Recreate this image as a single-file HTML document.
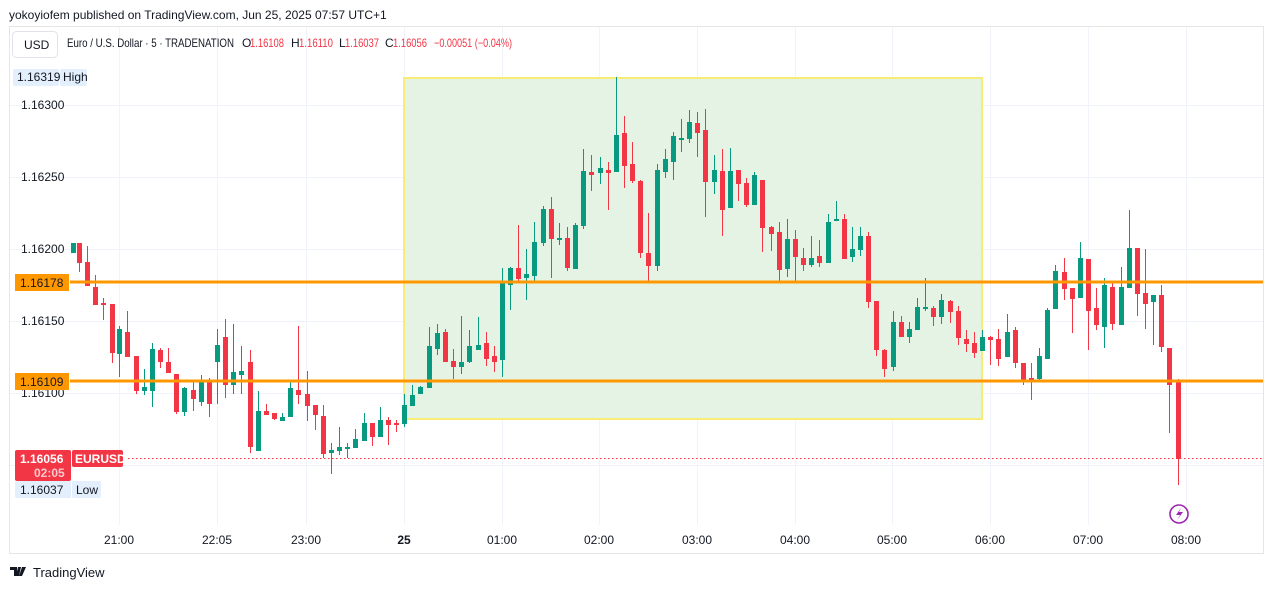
<!DOCTYPE html>
<html><head><meta charset="utf-8"><style>
body{margin:0;width:1273px;height:589px;background:#fff;overflow:hidden;font-family:"Liberation Sans",sans-serif;}
svg text{font-family:"Liberation Sans",sans-serif;}
</style></head><body>
<svg width="1273" height="589" viewBox="0 0 1273 589" xmlns="http://www.w3.org/2000/svg">
<text x="9" y="19" font-size="12" fill="#131722">yokoyiofem published on TradingView.com, Jun 25, 2025 07:57 UTC+1</text>
<rect x="9.5" y="26.5" width="1254" height="527" fill="#fff" stroke="#e6e6e6"/>
<g stroke="#f0f3fa" stroke-width="1">
<line x1="10" x2="1263" y1="105.5" y2="105.5"/><line x1="10" x2="1263" y1="177.5" y2="177.5"/>
<line x1="10" x2="1263" y1="249.5" y2="249.5"/><line x1="10" x2="1263" y1="321.5" y2="321.5"/>
<line x1="10" x2="1263" y1="393.5" y2="393.5"/><line x1="10" x2="1263" y1="465.5" y2="465.5"/>
<g id="vg"></g>
</g>
<rect x="404" y="78" width="578" height="341" fill="#e5f3e5" stroke="#f8ec77" stroke-width="2"/>
<g id="c"></g>
<line x1="70" x2="1263" y1="282" y2="282" stroke="#ff9800" stroke-width="3"/>
<line x1="70" x2="1263" y1="381" y2="381" stroke="#ff9800" stroke-width="3"/>
<line x1="128" x2="1263" y1="458.5" y2="458.5" stroke="#f23645" stroke-dasharray="1.5 2.5"/>
<rect x="12.5" y="31.5" width="45" height="26" rx="4" fill="#fff" stroke="#e0e3eb"/>
<text x="24" y="49" font-size="12" fill="#131722">USD</text>
<g font-size="12" fill="#131722" lengthAdjust="spacingAndGlyphs">
<text x="67" y="47" textLength="167" lengthAdjust="spacingAndGlyphs">Euro / U.S. Dollar · 5 · TRADENATION</text>
<text x="242" y="47">O</text><text x="250" y="47" fill="#f23645" textLength="34" lengthAdjust="spacingAndGlyphs">1.16108</text>
<text x="291" y="47">H</text><text x="299" y="47" fill="#f23645" textLength="34" lengthAdjust="spacingAndGlyphs">1.16110</text>
<text x="339" y="47">L</text><text x="345" y="47" fill="#f23645" textLength="34" lengthAdjust="spacingAndGlyphs">1.16037</text>
<text x="385" y="47">C</text><text x="393" y="47" fill="#f23645" textLength="34" lengthAdjust="spacingAndGlyphs">1.16056</text>
<text x="434" y="47" fill="#f23645" textLength="78" lengthAdjust="spacingAndGlyphs">−0.00051 (−0.04%)</text>
</g>
<rect x="13" y="69" width="46" height="17" rx="2" fill="#e3effd"/><rect x="60" y="69" width="27" height="17" rx="2" fill="#e3effd"/>
<text x="17" y="81" font-size="12" fill="#131722">1.16319</text><text x="63" y="81" font-size="12" fill="#131722">High</text>
<g font-size="12" fill="#131722">
<text x="21" y="109">1.16300</text><text x="21" y="181">1.16250</text><text x="21" y="253">1.16200</text>
<text x="21" y="325">1.16150</text><text x="21" y="397">1.16100</text>
</g>
<rect x="15" y="274" width="54" height="17" fill="#ff9800"/><text x="20" y="287" font-size="12" fill="#131722">1.16178</text>
<rect x="15" y="373" width="54" height="17" fill="#ff9800"/><text x="20" y="386" font-size="12" fill="#131722">1.16109</text>
<rect x="15" y="450" width="56" height="31" rx="2" fill="#f23645"/><rect x="72" y="450" width="51" height="17" rx="2" fill="#f23645"/>
<text x="20" y="463" font-size="12" font-weight="bold" fill="#fff">1.16056</text>
<text x="34" y="477" font-size="12" font-weight="bold" fill="#ffc8cc">02:05</text>
<text x="75" y="463" font-size="12" font-weight="bold" fill="#fff">EURUSD</text>
<rect x="15" y="481" width="56" height="17" rx="2" fill="#e3effd"/><rect x="72" y="481" width="29" height="17" rx="2" fill="#e3effd"/>
<text x="20" y="494" font-size="12" fill="#131722">1.16037</text><text x="76" y="494" font-size="12" fill="#131722">Low</text>
<g font-size="12" fill="#131722" text-anchor="middle" id="tx"></g>
<circle cx="1179" cy="514" r="9" fill="#fff" stroke="#9c27b0" stroke-width="1.6"/>
<path d="M1181 508 L1176 515 L1180 515 L1177 520 L1183 512 L1179 512 Z" fill="#9c27b0"/>
<path d="M10 567h7v9h-3v-6h-4z M18 567h3l-2 9h-3z M22 567h4l-4 9h-3z" fill="#131722"/>
<text x="33" y="577" font-size="13" fill="#131722">TradingView</text>
</svg>
<script>
var ns="http://www.w3.org/2000/svg";
var T=[[119,"21:00"],[217,"22:05"],[306,"23:00"],[404,"25"],[502,"01:00"],[599,"02:00"],[697,"03:00"],[795,"04:00"],[892,"05:00"],[990,"06:00"],[1088,"07:00"],[1186,"08:00"]];
var vg=document.getElementById("vg"),tx=document.getElementById("tx");
T.forEach(function(t){var l=document.createElementNS(ns,"line");l.setAttribute("x1",t[0]+.5);l.setAttribute("x2",t[0]+.5);l.setAttribute("y1",27);l.setAttribute("y2",525);vg.appendChild(l);
var s=document.createElementNS(ns,"text");s.setAttribute("x",t[0]);s.setAttribute("y",544);if(t[1]=="25")s.setAttribute("font-weight","bold");s.textContent=t[1];tx.appendChild(s);});
var C=[[73,243,253,243,253,1],[79,243,263,243,272,0],[87,262,286,246,286,0],[95,287,305,275,305,0],[103,303,305,298,320,0],[112,304,353,304,363,0],[119,329,354,326,377,1],[127,332,357,311,357,0],[136,356,391,356,394,0],[144,387,391,369,395,1],[152,349,391,343,407,1],[160,350,362,348,368,0],[168,362,373,348,373,0],[176,374,412,374,414,0],[184,388,412,387,416,1],[193,390,399,382,411,0],[201,382,402,375,406,1],[209,382,404,378,417,0],[217,345,362,329,404,1],[225,337,385,319,398,0],[233,372,385,324,394,1],[241,371,375,346,394,1],[250,362,447,350,453,0],[258,411,451,391,451,1],[266,411,415,404,415,0],[274,413,419,413,420,0],[282,417,421,413,421,1],[290,388,417,381,417,1],[298,390,395,326,404,0],[307,394,406,371,421,0],[315,405,415,405,430,0],[323,416,454,405,458,0],[331,450,453,443,474,1],[339,447,451,427,455,1],[347,447,448,443,458,1],[355,439,448,429,448,1],[364,423,441,413,441,1],[372,423,437,423,446,0],[380,420,437,407,437,1],[388,420,425,417,445,0],[396,423,424,420,432,0],[404,405,424,394,427,1],[412,395,406,385,406,1],[420,387,394,386,394,1],[429,346,388,327,388,1],[437,333,349,324,355,1],[445,332,362,329,362,0],[453,361,367,349,379,0],[461,362,367,316,374,1],[469,346,362,330,363,1],[478,345,350,317,350,1],[486,343,359,332,366,0],[494,356,362,346,372,0],[502,282,360,268,377,1],[510,268,285,267,310,1],[518,268,279,225,281,0],[526,274,278,249,300,1],[534,242,276,222,282,1],[543,209,243,206,246,1],[551,209,239,197,278,0],[559,238,239,223,245,1],[567,238,268,227,271,0],[575,225,269,223,269,1],[583,171,226,149,229,1],[591,172,175,155,191,0],[600,168,173,157,184,1],[608,170,173,162,210,0],[616,135,172,77,172,1],[624,133,166,116,188,0],[632,164,181,142,183,0],[640,181,253,180,258,0],[648,253,266,213,282,0],[657,170,266,164,271,1],[665,159,172,149,178,1],[673,136,162,132,180,1],[681,138,139,119,152,1],[689,122,139,110,143,1],[697,123,133,112,157,0],[705,130,182,109,217,0],[714,170,182,155,194,1],[722,171,210,149,236,0],[730,171,208,148,208,1],[738,170,184,170,201,0],[746,183,205,178,207,0],[754,175,205,172,205,1],[762,180,228,180,252,0],[771,227,234,226,251,0],[779,232,270,222,282,0],[787,239,269,219,277,1],[795,239,257,230,281,0],[803,258,265,248,271,0],[811,258,265,236,267,1],[819,256,263,240,267,0],[828,222,263,214,263,1],[836,219,221,201,221,1],[844,219,259,214,259,0],[852,249,257,227,262,1],[860,236,250,227,256,1],[868,236,302,232,308,0],[876,301,350,301,356,0],[884,350,369,349,377,0],[893,322,367,311,371,1],[901,322,337,316,337,0],[909,329,337,322,343,1],[917,307,330,298,330,1],[925,307,309,278,311,1],[933,308,317,306,326,0],[941,300,317,294,324,1],[950,301,312,300,323,0],[958,311,338,306,345,0],[966,339,344,330,352,0],[974,343,353,332,358,0],[982,337,351,330,351,1],[990,337,340,336,365,0],[998,339,359,329,366,0],[1007,332,357,314,357,1],[1015,330,363,327,368,0],[1023,363,380,363,385,0],[1031,378,380,363,400,0],[1039,356,379,348,381,1],[1047,310,359,308,359,1],[1055,271,309,265,309,1],[1064,272,289,258,300,0],[1072,288,299,288,333,0],[1080,258,298,242,298,1],[1088,259,311,259,350,0],[1096,308,325,288,330,0],[1104,285,327,278,348,1],[1112,287,324,281,330,0],[1121,287,325,267,325,1],[1129,248,288,210,288,1],[1137,248,294,248,316,0],[1145,293,304,249,329,0],[1153,295,302,295,345,1],[1161,295,347,285,352,0],[1169,348,385,348,433,0],[1178,382,459,379,485,0]];
var g=document.getElementById("c"),h="";
C.forEach(function(c){var col=c[5]?"#089981":"#f23645";var bh=Math.max(2,c[2]-c[1]);
h+='<line x1="'+(c[0]+.5)+'" x2="'+(c[0]+.5)+'" y1="'+c[3]+'" y2="'+c[4]+'" stroke="'+col+'"/>';
h+='<rect x="'+(c[0]-2)+'" y="'+c[1]+'" width="5" height="'+bh+'" fill="'+col+'"/>';});
g.innerHTML=h;
</script>
</body></html>
